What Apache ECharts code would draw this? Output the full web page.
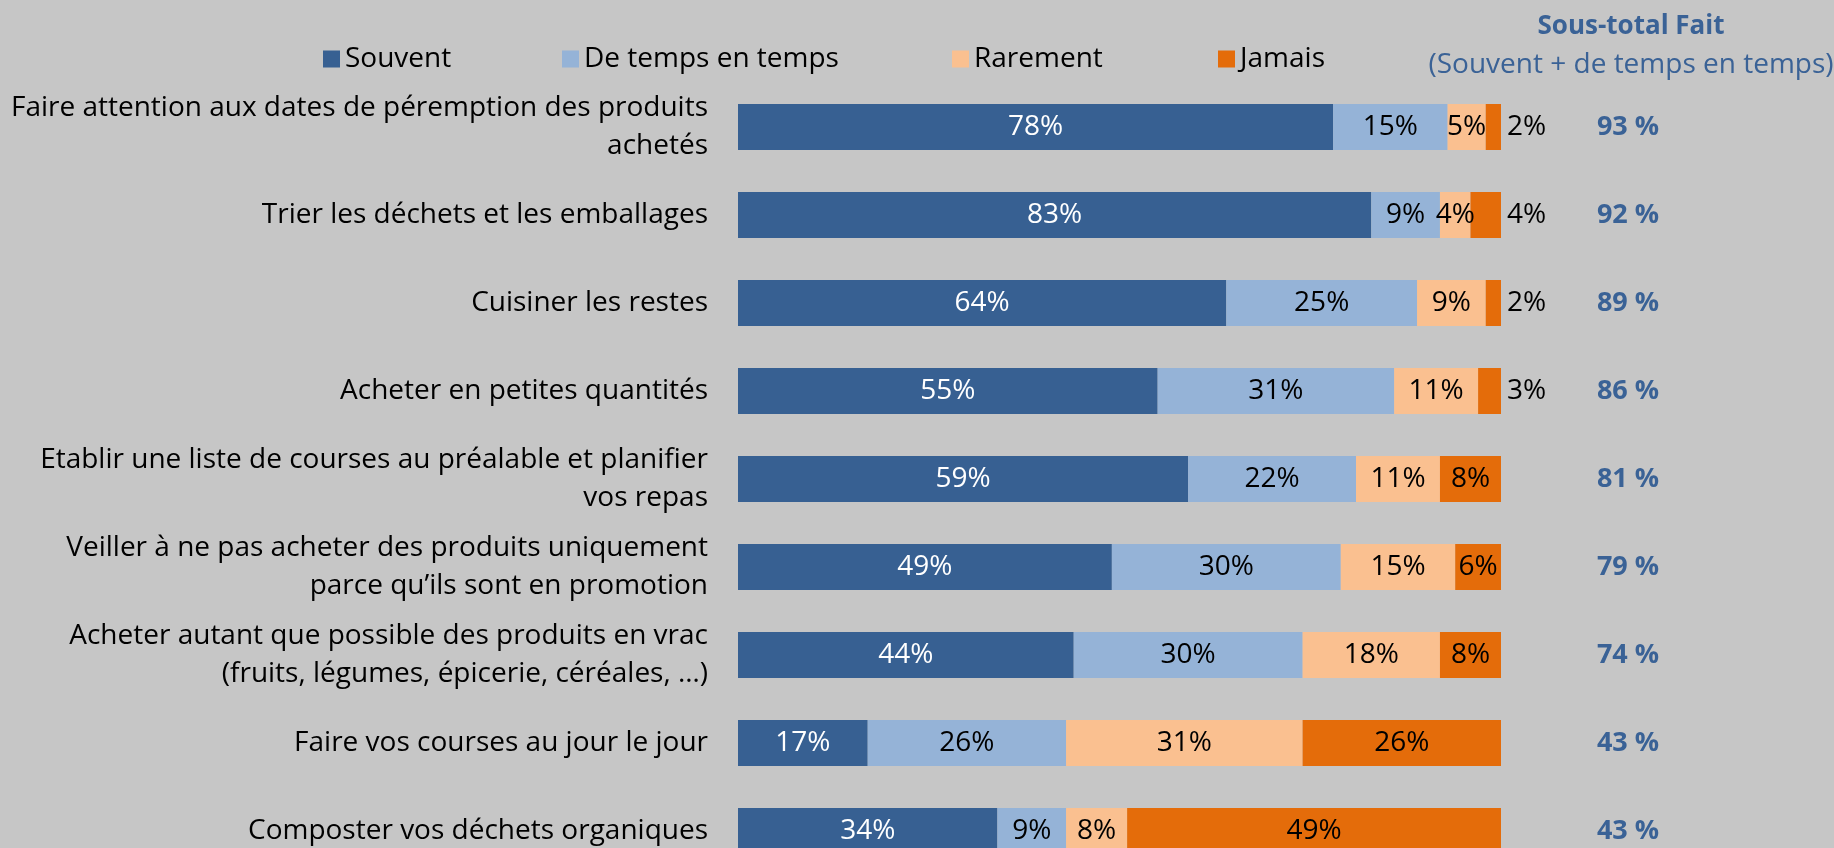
<!DOCTYPE html>
<html>
<head>
<meta charset="utf-8">
<script src="https://cdn.jsdelivr.net/npm/echarts@6/dist/echarts.min.js"></script>
<style>
  html, body { margin: 0; padding: 0; background: #c6c6c6; }
  #main { width: 1834px; height: 848px; }
</style>
</head>
<body>
<div id="main"></div>
<script>
  // categories, top to bottom
  const categories = [
    'Faire attention aux dates de péremption des produits\nachetés',
    'Trier les déchets et les emballages',
    'Cuisiner les restes',
    'Acheter en petites quantités',
    'Etablir une liste de courses au préalable et planifier\nvos repas',
    'Veiller à ne pas acheter des produits uniquement\nparce qu’ils sont en promotion',
    'Acheter autant que possible des produits en vrac\n(fruits, légumes, épicerie, céréales, …)',
    'Faire vos courses au jour le jour',
    'Composter vos déchets organiques'
  ];
  const souvent = [78, 83, 64, 55, 59, 49, 44, 17, 34];
  const deTemps = [15, 9, 25, 31, 22, 30, 30, 26, 9];
  const rarement = [5, 4, 9, 11, 11, 15, 18, 31, 8];
  const jamais = [2, 4, 2, 3, 8, 6, 8, 26, 49];
  const sousTotal = [93, 92, 89, 86, 81, 79, 74, 43, 43];

  const seriesNames = ['Souvent', 'De temps en temps', 'Rarement', 'Jamais'];
  const colors = ['#376092', '#95b3d7', '#fac090', '#e46c0a'];
  const legendLeft = [318, 557, 947, 1213];

  const FONT = 'Open Sans';
  const FS = 28;

  let chart = echarts.init(document.getElementById('main'));

  function labelStyle(color) {
    return {
      show: true,
      position: 'inside',
      color: color,
      fontFamily: FONT,
      fontSize: FS,
      formatter: '{c}%'
    };
  }

  // small "Jamais" values are labelled outside the bar
  const jamaisData = jamais.map(function (v) {
    if (v <= 4) {
      return { value: v, label: { position: 'right', distance: 6 } };
    }
    return v;
  });

  const datasets = [souvent, deTemps, rarement, jamaisData];
  const series = datasets.map(function (d, i) {
    return {
      name: seriesNames[i],
      type: 'bar',
      stack: 'total',
      barWidth: 46,
      data: d.slice().reverse(),
      itemStyle: { color: colors[i] },
      label: labelStyle(i === 0 ? '#ffffff' : '#000000')
    };
  });

  chart.setOption({
    backgroundColor: '#c6c6c6',
    animation: false,
    title: [
      {
        text: 'Sous-total Fait',
        left: 1626,
        top: 9,
        textAlign: 'center',
        textStyle: { color: '#3a6296', fontFamily: FONT, fontSize: 26, fontWeight: 'bold' }
      },
      {
        text: '(Souvent + de temps en temps)',
        left: 1626,
        top: 46,
        textAlign: 'center',
        textStyle: { color: '#3a6296', fontFamily: FONT, fontSize: FS, fontWeight: 'normal' }
      }
    ],
    legend: seriesNames.map(function (n, i) {
      return {
        data: [n],
        left: legendLeft[i],
        top: 40,
        itemWidth: 17,
        itemHeight: 17,
        itemGap: 0,
        icon: 'rect',
        textStyle: { fontFamily: FONT, fontSize: FS, color: '#000', padding: [0, 0, 0, 0] }
      };
    }),
    grid: { left: 738, width: 763, top: 83, height: 792, containLabel: false, outerBoundsMode: 'none' },
    xAxis: {
      type: 'value',
      min: 0,
      max: 100,
      show: false
    },
    yAxis: [
      {
        type: 'category',
        data: categories.slice().reverse(),
        axisLine: { show: false },
        axisTick: { show: false },
        axisLabel: {
          margin: 30,
          align: 'right',
          fontFamily: FONT,
          fontSize: FS,
          lineHeight: 38,
          color: '#000'
        }
      },
      {
        type: 'category',
        position: 'right',
        data: sousTotal.slice().reverse(),
        axisLine: { show: false },
        axisTick: { show: false },
        axisLabel: {
          margin: 127,
          align: 'center',
          fontFamily: FONT,
          fontSize: 27,
          fontWeight: 'bold',
          color: '#3a6296',
          formatter: '{value} %'
        }
      }
    ],
    series: series
  });
</script>
</body>
</html>
